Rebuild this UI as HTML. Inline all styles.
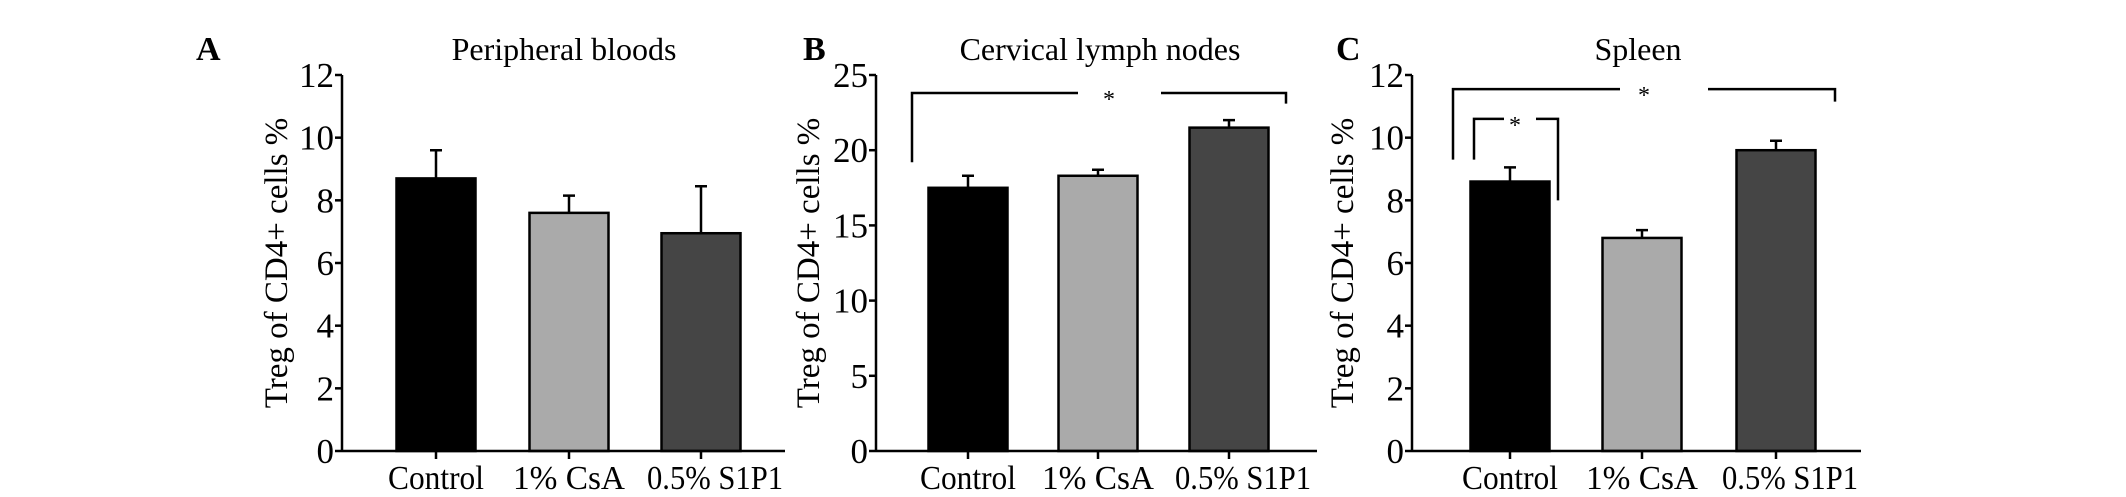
<!DOCTYPE html>
<html><head><meta charset="utf-8"><style>
html,body{margin:0;padding:0;background:#fff;}
svg{display:block;font-family:"Liberation Serif",serif;}
</style></head>
<body>
<svg id="fig" width="2126" height="497" viewBox="0 0 2126 497" xmlns="http://www.w3.org/2000/svg"></svg>
<script>
const categories = ["Control", "1% CsA", "0.5% S1P1"];
const valuesA = [8.7, 7.6, 6.95];
const errorsA = [9.6, 8.15, 8.45];
const valuesB = [17.5, 18.3, 21.5];
const errorsB = [18.3, 18.7, 22.0];
const valuesC = [8.6, 6.8, 9.6];
const errorsC = [9.05, 7.05, 9.9];
const ticksA = [0, 2, 4, 6, 8, 10, 12];
const ticksB = [0, 5, 10, 15, 20, 25];
const ticksC = [0, 2, 4, 6, 8, 10, 12];
const fills = ["#000000", "#aaaaaa", "#454545"];

const NS = "http://www.w3.org/2000/svg";
const svg = document.getElementById("fig");
function mk(tag, attrs, parent){
  const e = document.createElementNS(NS, tag);
  for (const k in attrs) e.setAttribute(k, attrs[k]);
  (parent || svg).appendChild(e);
  return e;
}
const labelShift = [0, 0, 14];
const labelLen = [96, 112, 136];
const panels = [
  {id:"a", letter:"A", lx:196, title:"Peripheral bloods", tx:564, axisX:342, xEnd:785, centers:[436,569,701], yMax:12, ticks:ticksA, vals:valuesA, errs:errorsA, ytx:276, brackets:[]},
  {id:"b", letter:"B", lx:803, title:"Cervical lymph nodes", tx:1100, axisX:876, xEnd:1317, centers:[968,1098,1229], yMax:25, ticks:ticksB, vals:valuesB, errs:errorsB, ytx:808,
   brackets:[{x1:912,x2:1286,y:23.8,d1:19.2,d2:23.1,g1:1078,g2:1161,sx:1109}]},
  {id:"c", letter:"C", lx:1336, title:"Spleen", tx:1638, axisX:1412, xEnd:1861, centers:[1510,1642,1776], yMax:12, ticks:ticksC, vals:valuesC, errs:errorsC, ytx:1342,
   brackets:[{x1:1453,x2:1835,y:11.55,d1:9.3,d2:11.15,g1:1620,g2:1708,sx:1644},{x1:1474,x2:1558,y:10.6,d1:9.3,d2:8.0,g1:1504,g2:1536,sx:1515}]}
];
const Y0 = 451, Y1 = 75, BW = 79;
panels.forEach(p => {
  const g = mk("g", {});
  
  
  const ys = v => Y0 - (v / p.yMax) * (Y0 - Y1);
  const L = mk("text", {x:p.lx, y:60, "font-size":34, "font-weight":"bold"}, g);
  L.textContent = p.letter;
  
  
  const T = mk("text", {x:p.tx, y:60, "font-size":32, "text-anchor":"middle"}, g);
  T.textContent = p.title;
  
  
  const YT = mk("text", {x:0, y:0, "font-size":33, "text-anchor":"middle", transform:`translate(${p.ytx+11},263) rotate(-90)`}, g);
  YT.textContent = "Treg of CD4+ cells %";
  
  
  p.vals.forEach((v, i) => {
    const cx = p.centers[i];
    const r = mk("rect", {x:cx-BW/2, y:ys(v), width:BW, height:Y0-ys(v), fill:fills[i], stroke:"#000", "stroke-width":2.5}, g);
    
    
    const e = mk("path", {d:`M${cx},${ys(v)} V${ys(p.errs[i])} M${cx-6},${ys(p.errs[i])} H${cx+6}`, stroke:"#000", "stroke-width":2.5, fill:"none"}, g);
    
    
    mk("line", {x1:cx, x2:cx, y1:Y0, y2:Y0+8, stroke:"#000", "stroke-width":2.5}, g);
    const xl = mk("text", {x:cx+labelShift[i], y:489, "font-size":34, "text-anchor":"middle", textLength:labelLen[i], lengthAdjust:"spacingAndGlyphs"}, g);
    xl.textContent = categories[i];
    
    
  });
  const ya = mk("line", {x1:p.axisX, x2:p.axisX, y1:Y1, y2:Y0, stroke:"#000", "stroke-width":2.5}, g);
  
  
  const xa = mk("line", {x1:p.axisX, x2:p.xEnd, y1:Y0, y2:Y0, stroke:"#000", "stroke-width":2.5}, g);
  
  
  p.ticks.forEach(t => {
    mk("line", {x1:p.axisX-7, x2:p.axisX, y1:ys(t), y2:ys(t), stroke:"#000", "stroke-width":2.5}, g);
    const tl = mk("text", {x:p.axisX-8, y:ys(t)+12, "font-size":35, "text-anchor":"end"}, g);
    tl.textContent = t;
    
    
  });
  p.brackets.forEach((b, k) => {
    const y = ys(b.y);
    const br = mk("path", {d:`M${b.x1},${ys(b.d1)} V${y} H${b.g1} M${b.g2},${y} H${b.x2} V${ys(b.d2)}`, stroke:"#000", "stroke-width":2.5, fill:"none"}, g);
    
    
    const s = mk("text", {x:b.sx, y:y+14, "font-size":24, "text-anchor":"middle"}, g);
    s.textContent = "*";
    
    
  });
});
</script>
</body></html>
